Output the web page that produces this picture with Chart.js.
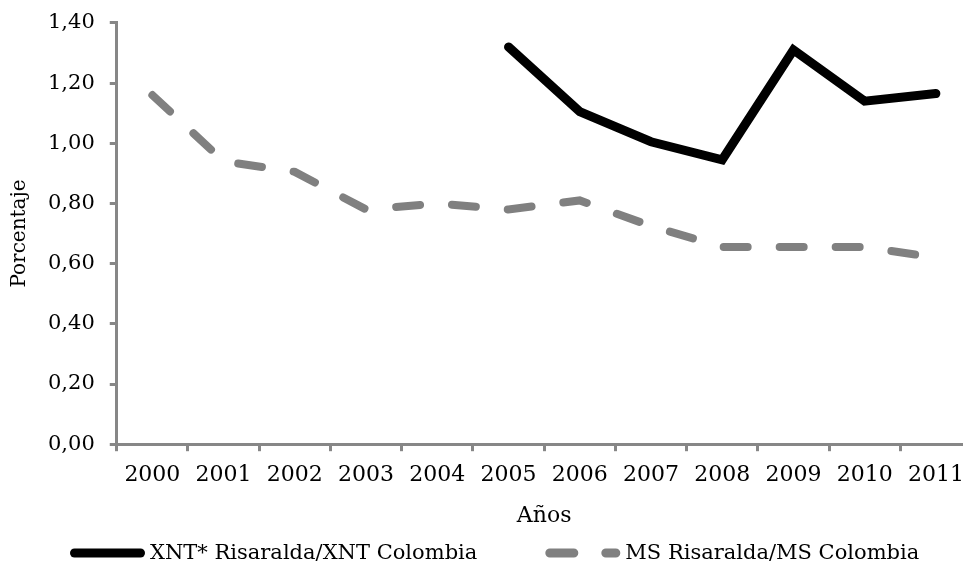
<!DOCTYPE html>
<html>
<head>
<meta charset="utf-8">
<script src="https://cdn.jsdelivr.net/npm/chart.js@4.4.1/dist/chart.umd.min.js"></script>
<style>
  html, body { margin: 0; padding: 0; background: #fff; overflow: hidden; }
  /* plot runs a little past the right edge, as in the original crop */
  #wrap { position: relative; width: 975px; height: 566px; }
</style>
</head>
<body>
<div id="wrap"><canvas id="chart"></canvas></div>
<script>
// Data
const years = ['2000', '2001', '2002', '2003', '2004', '2005', '2006', '2007', '2008', '2009', '2010', '2011'];
const xntRatio = [null, null, null, null, null, 1.32, 1.105, 1.005, 0.945, 1.31, 1.14, 1.165];
const msRatio = [1.16, 0.94, 0.905, 0.78, 0.80, 0.78, 0.81, 0.725, 0.655, 0.655, 0.655, 0.62];
const seriesNames = ['XNT* Risaralda/XNT Colombia', 'MS Risaralda/MS Colombia'];

const axisGrey = '#878787';
const serif = "'DejaVu Serif', serif";

// Legend drawn on the canvas so the items can sit wide apart like the original
const bottomLegend = {
    id: 'bottomLegend',
    afterDraw(chart) {
        const ctx = chart.ctx;
        const y = 553;
        let x = 70;
        ctx.save();
        ctx.font = `21px ${serif}`;
        ctx.textBaseline = 'middle';
        ctx.textAlign = 'left';
        chart.data.datasets.forEach(ds => {
            ctx.beginPath();
            ctx.lineWidth = 9;
            ctx.lineCap = 'round';
            ctx.strokeStyle = ds.borderColor;
            ctx.setLineDash(ds.borderDash || []);
            ctx.moveTo(x + 4.5, y);
            ctx.lineTo(x + 70.5, y);
            ctx.stroke();
            ctx.setLineDash([]);
            ctx.fillStyle = '#000';
            ctx.fillText(ds.label, x + 80, y + 1);
            x += 80 + ctx.measureText(ds.label).width + 68;
        });
        ctx.restore();
    }
};

const ctx = document.getElementById('chart').getContext('2d');

new Chart(ctx, {
    type: 'line',
    data: {
        labels: years,
        datasets: [{
            label: seriesNames[0],
            data: xntRatio,
            borderColor: '#000',
            backgroundColor: '#000',
            borderWidth: 9,
            borderCapStyle: 'round',
            borderJoinStyle: 'miter',
            pointRadius: 0,
            tension: 0
        }, {
            label: seriesNames[1],
            data: msRatio,
            borderColor: '#808080',
            backgroundColor: '#808080',
            borderWidth: 8,
            borderDash: [24, 32],
            borderCapStyle: 'round',
            pointRadius: 0,
            tension: 0
        }]
    },
    plugins: [bottomLegend],
    options: {
        responsive: true,
        maintainAspectRatio: false,
        animation: false,
        layout: { padding: { top: 5, right: 3, left: 8, bottom: 37 } },
        plugins: {
            legend: { display: false },
            tooltip: { enabled: false }
        },
        scales: {
            x: {
                offset: true,
                grid: {
                    offset: true,
                    drawOnChartArea: false,
                    drawTicks: true,
                    tickLength: 7,
                    tickWidth: 3,
                    tickColor: axisGrey
                },
                border: { color: axisGrey, width: 3 },
                ticks: { color: '#000', padding: 11, maxRotation: 0, autoSkip: false, font: { family: serif, size: 22 } },
                title: { display: true, text: 'Años', color: '#000', padding: { top: 3, bottom: 0 }, font: { family: serif, size: 22 } }
            },
            y: {
                min: 0,
                max: 1.4,
                ticks: {
                    stepSize: 0.2,
                    color: '#000',
                    padding: 15,
                    font: { family: serif, size: 21, lineHeight: 0.75 },
                    callback: (v) => v.toFixed(2).replace('.', ',')
                },
                grid: {
                    drawOnChartArea: false,
                    drawTicks: true,
                    tickLength: 7,
                    tickWidth: 3,
                    tickColor: axisGrey
                },
                border: { color: axisGrey, width: 3 },
                title: { display: true, text: 'Porcentaje', color: '#000', padding: { top: 0, bottom: 1 }, font: { family: serif, size: 20 } }
            }
        }
    }
});
</script>
</body>
</html>
